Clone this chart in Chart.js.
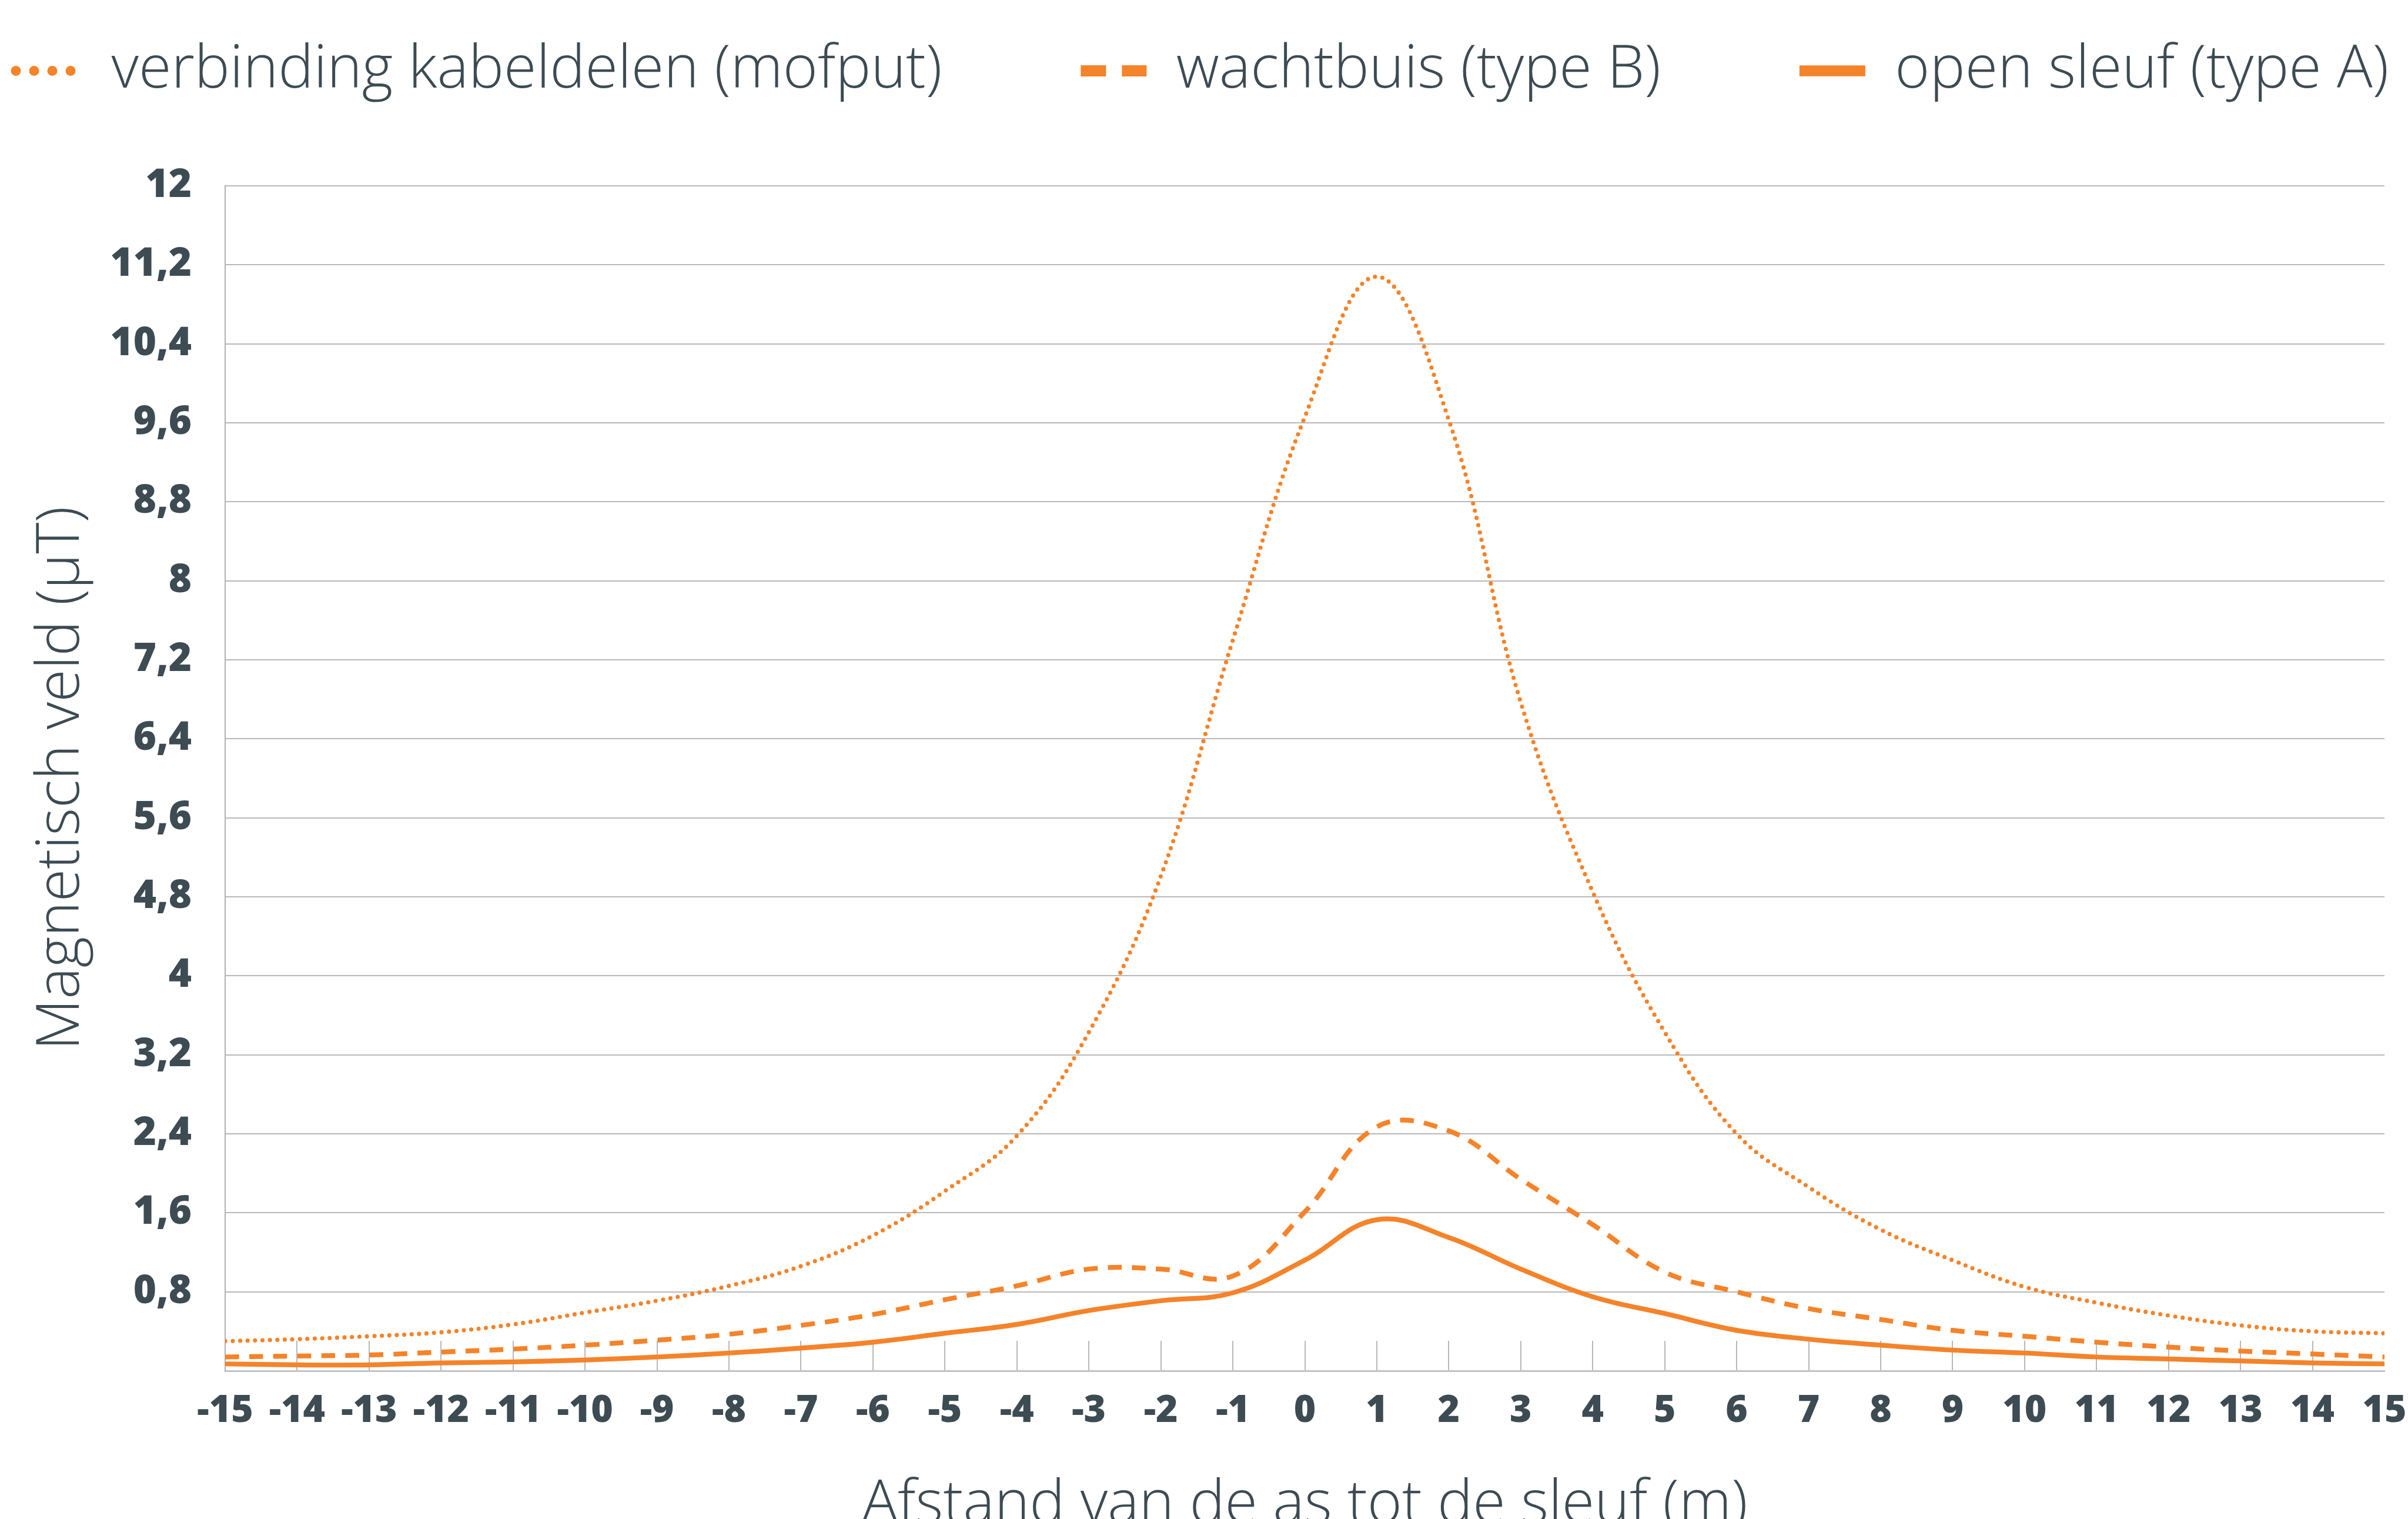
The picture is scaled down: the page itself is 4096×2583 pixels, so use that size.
<!DOCTYPE html>
<html>
<head>
<meta charset="utf-8">
<script src="https://cdn.jsdelivr.net/npm/chart.js@4.4.1/dist/chart.umd.min.js"></script>
<style>
  html, body { margin: 0; padding: 0; overflow: hidden; background: #ffffff; }
  #wrap { position: absolute; left: 0; top: 0; width: 4096px; height: 2700px; }
</style>
</head>
<body>
<div id="wrap"><canvas id="veldChart"></canvas></div>
<script>
// afstand tot de as (m)
const distances = [-15, -14, -13, -12, -11, -10, -9, -8, -7, -6, -5, -4, -3, -2, -1, 0,
  1, 2, 3, 4, 5, 6, 7, 8, 9, 10, 11, 12, 13, 14, 15];

// magnetisch veld (µT)
const mofput = [0.30, 0.32, 0.35, 0.39, 0.47, 0.59, 0.71, 0.86, 1.06, 1.37, 1.82, 2.38, 3.43, 5.01, 7.40, 9.66,
  11.08, 9.63, 6.77, 4.85, 3.43, 2.40, 1.86, 1.43, 1.12, 0.85, 0.69, 0.56, 0.46, 0.40, 0.38];
const wachtbuis = [0.14, 0.15, 0.16, 0.19, 0.22, 0.26, 0.31, 0.37, 0.46, 0.57, 0.72, 0.86, 1.03, 1.03, 0.96, 1.61,
  2.47, 2.43, 1.94, 1.48, 1.00, 0.80, 0.63, 0.52, 0.41, 0.35, 0.29, 0.24, 0.20, 0.17, 0.14];
const sleuf = [0.07, 0.06, 0.06, 0.08, 0.09, 0.11, 0.14, 0.18, 0.23, 0.29, 0.38, 0.47, 0.61, 0.71, 0.79, 1.12,
  1.53, 1.35, 1.03, 0.75, 0.58, 0.41, 0.32, 0.26, 0.21, 0.18, 0.14, 0.12, 0.10, 0.08, 0.07];

const seriesNames = ["verbinding kabeldelen (mofput)", "wachtbuis (type B)", "open sleuf (type A)"];

const ORANGE = "#f58329";
const TEXT = "#3d4b53";
const GRID = "#b8b8bb";
const LIGHT_FONT = { family: "'Open Sans'", size: 101, weight: "300" };

const toPoints = (values) => values.map((v, i) => ({ x: distances[i], y: v }));

// legend keys are drawn bigger than the lines themselves
const legendKeys = [
  { lineWidth: 17, lineDash: [0, 31], lineCap: "round" },
  { lineWidth: 19, lineDash: [43, 27], lineCap: "butt" },
  { lineWidth: 18.5, lineDash: [], lineCap: "butt" },
];

// one wide legend row, starting at the left edge
const legendRow = {
  id: "legendRow",
  beforeLayout(chart) {
    const legend = chart.legend;
    if (legend && !legend._rowPatched) {
      const fit = legend.fit;
      legend.fit = function () {
        const mw = this.maxWidth;
        this.maxWidth = 100000;
        fit.call(this);
        this.maxWidth = mw;
        this.width = mw;
        this.height = 482;
      };
      legend._rowPatched = true;
    }
  },
  afterLayout(chart) {
    const legend = chart.legend;
    legend.left = 27 - legend.options.labels.padding;
    legend.right = chart.width + 3000;
  },
};

const data = {
  datasets: [
    {
      label: seriesNames[0],
      data: toPoints(mofput),
      borderColor: ORANGE,
      borderWidth: 7.2,
      borderDash: [0, 12.7],
      borderCapStyle: "round",
    },
    {
      label: seriesNames[1],
      data: toPoints(wachtbuis),
      borderColor: ORANGE,
      borderWidth: 8.2,
      borderDash: [23.5, 17.4],
    },
    {
      label: seriesNames[2],
      data: toPoints(sleuf),
      borderColor: ORANGE,
      borderWidth: 8.2,
    },
  ],
};

const options = {
  responsive: true,
  maintainAspectRatio: false,
  animation: false,
  elements: {
    point: { radius: 0 },
    line: { tension: 0.4, fill: false },
  },
  layout: {
    padding: { top: -166, right: 40, bottom: 0, left: 0 },
  },
  plugins: {
    tooltip: { enabled: false },
    legend: {
      position: "top",
      align: "start",
      labels: {
        usePointStyle: true,
        pointStyle: "line",
        pointStyleWidth: 112,
        padding: 236,
        color: TEXT,
        font: LIGHT_FONT,
        generateLabels(chart) {
          const items = Chart.defaults.plugins.legend.labels.generateLabels(chart);
          items.forEach((item, i) => {
            item.strokeStyle = ORANGE;
            item.fillStyle = ORANGE;
            item.lineWidth = legendKeys[i].lineWidth;
            item.lineDash = legendKeys[i].lineDash;
            item.lineCap = legendKeys[i].lineCap;
            item.pointStyle = "line";
          });
          return items;
        },
      },
    },
  },
  scales: {
    x: {
      type: "linear",
      min: -15,
      max: 15,
      afterFit(scale) {
        scale.height = 369;
      },
      border: { display: true, color: "#c3c3c7", width: 3 },
      grid: {
        drawOnChartArea: false,
        drawTicks: true,
        tickLength: -51,
        lineWidth: 2,
        color: (ctx) => (ctx.tick && ctx.tick.value === 15 ? "rgba(0,0,0,0)" : GRID),
      },
      ticks: {
        stepSize: 1,
        padding: 0,
        color: TEXT,
        maxRotation: 0,
        autoSkip: false,
        font: { family: "'Open Sans'", size: 64, weight: "800", lineHeight: 3.75 },
        callback: (value) => String(value),
      },
      title: {
        display: true,
        text: "Afstand van de as tot de sleuf (m)",
        color: TEXT,
        font: LIGHT_FONT,
        padding: { top: 0, bottom: 79 },
      },
    },
    y: {
      min: 0,
      max: 12,
      afterFit(scale) {
        scale.width = 383;
      },
      border: { display: true, color: "#b0b0b4", width: 2 },
      grid: {
        drawTicks: false,
        lineWidth: 2,
        color: (ctx) => (ctx.tick && ctx.tick.value === 0 ? "rgba(0,0,0,0)" : GRID),
      },
      ticks: {
        stepSize: 0.8,
        padding: 57,
        color: TEXT,
        font: { family: "'Open Sans'", size: 67, weight: "800" },
        callback: (value) => {
          const v = Math.round(value * 10) / 10;
          if (v === 0) return "";
          return String(v).replace(".", ",");
        },
      },
      title: {
        display: true,
        text: "Magnetisch veld (µT)",
        color: TEXT,
        font: LIGHT_FONT,
        padding: { top: 45, bottom: 0 },
      },
    },
  },
};

const ctx = document.getElementById("veldChart").getContext("2d");
new Chart(ctx, {
  type: "line",
  data,
  options,
  plugins: [legendRow],
});
</script>
</body>
</html>
